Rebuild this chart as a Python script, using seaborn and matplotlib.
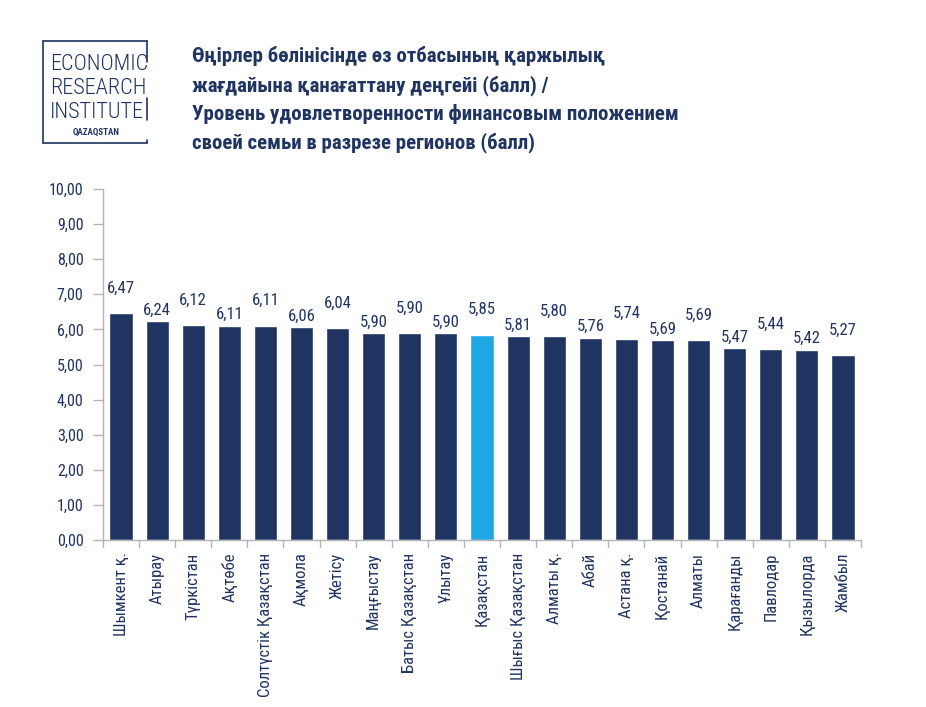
import matplotlib
matplotlib.use("Agg")
import matplotlib.pyplot as plt
import seaborn as sns
import pandas as pd
from matplotlib.lines import Line2D

regions = ["Шымкент қ.", "Атырау", "Түркістан", "Ақтөбе", "Солтүстік Қазақстан",
           "Ақмола", "Жетісу", "Маңғыстау", "Батыс Қазақстан", "Ұлытау", "Қазақстан",
           "Шығыс Қазақстан", "Алматы қ.", "Абай", "Астана қ.", "Қостанай", "Алматы",
           "Қарағанды", "Павлодар", "Қызылорда", "Жамбыл"]
scores = [6.47, 6.24, 6.12, 6.11, 6.11, 6.06, 6.04, 5.90, 5.90, 5.90, 5.85,
          5.81, 5.80, 5.76, 5.74, 5.69, 5.69, 5.47, 5.44, 5.42, 5.27]
yticks = [0, 1, 2, 3, 4, 5, 6, 7, 8, 9, 10]
highlight = "Қазақстан"

title_lines = ["Өңірлер бөлінісінде өз отбасының қаржылық",
               "жағдайына қанағаттану деңгейі (балл) /",
               "Уровень удовлетворенности финансовым положением",
               "своей семьи в разрезе регионов (балл)"]
logo_lines = ["ECONOMIC", "RESEARCH", "INSTITUTE"]

navy = "#1f3461"
blue = "#1ea9e3"
grey = "#b4b4b4"

sns.set_style("white")
plt.rcParams['font.family'] = ['Roboto Condensed', 'DejaVu Sans']

df = pd.DataFrame({"region": regions, "score": scores})
palette = {r: (blue if r == highlight else navy) for r in regions}

W, H = 926, 707
def fx(x): return x / W
def fy(y): return 1 - y / H

fig = plt.figure(figsize=(9.26, 7.07), dpi=100)
ax = fig.add_axes([fx(103), fy(540), 758 / W, 351 / H])
sns.barplot(data=df, x="region", y="score", hue="region", palette=palette,
            width=0.64, legend=False, ax=ax, saturation=1)

# value labels alternate high / low like the original
for i, v in enumerate(scores):
    off = 0.5 if i % 2 == 0 else 0.1
    ax.text(i, v + off, f"{v:.2f}".replace(".", ","), ha="center", va="bottom",
            fontsize=12, color=navy)

ax.set_ylim(0, 10)
ax.set_xlim(-0.5, len(regions) - 0.5)
ax.set_yticks(yticks)
ax.set_yticklabels([f"{t:.2f}".replace(".", ",") for t in yticks], fontsize=11.5, color=navy)
ax.set_xticks(range(len(regions)))
ax.set_xticklabels(regions, rotation=90, fontsize=12, color=navy)
ax.tick_params(axis="x", length=0, pad=9)
ax.tick_params(axis="y", length=7, color=grey, width=1, pad=7, direction="out", left=True)
ax.set_xlabel("")
ax.set_ylabel("")
for s in ["top", "right"]:
    ax.spines[s].set_visible(False)
for s in ["left", "bottom"]:
    ax.spines[s].set_color(grey)
    ax.spines[s].set_linewidth(1)
for i in range(len(regions) + 1):
    ax.plot([i - 0.5, i - 0.5], [0, -0.2], color=grey, lw=1, clip_on=False)

# title
for line, base in zip(title_lines, [62, 91, 120, 148]):
    fig.text(fx(192), fy(base), line, ha="left", va="baseline", fontsize=15,
             fontweight="bold", color=navy)

# logo
lc = navy
for xs, ys in [((43, 43), (41, 143)), ((43, 147), (41, 41)), ((43, 147), (143, 143)),
               ((147, 147), (41, 62)), ((147, 147), (98, 120)), ((147, 147), (140, 143))]:
    fig.add_artist(Line2D([fx(xs[0]), fx(xs[1])], [fy(ys[0]), fy(ys[1])], color=lc, lw=1.2))
for txt, y in zip(logo_lines, [64, 89, 113]):
    fig.text(fx(50), fy(y), txt, ha="left", va="center", fontsize=16, color=lc,
             fontweight="light")
fig.text(fx(96), fy(132), "QAZAQSTAN", ha="center", va="center", fontsize=6.5,
         color=lc, fontweight="bold")

fig.savefig("out.png", dpi=100)
